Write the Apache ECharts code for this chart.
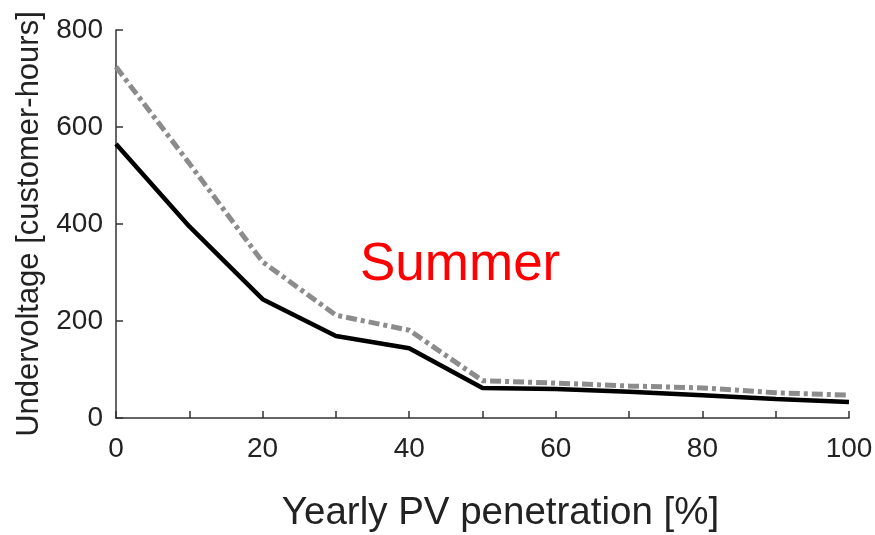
<!DOCTYPE html>
<html>
<head>
<meta charset="utf-8">
<script src="https://cdn.jsdelivr.net/npm/echarts@6/dist/echarts.min.js"></script>
<style>
html,body{margin:0;padding:0;background:#fff;}
#chart{width:875px;height:535px;}
</style>
</head>
<body>
<div id="chart"></div>
<script>
const penetration = [0, 10, 20, 30, 40, 50, 60, 70, 80, 90, 100];
const solidSeries = [565, 395, 245, 169, 144, 62, 60, 54, 47, 39, 33];
const dashedSeries = [724, 525, 322, 212, 181, 77, 72, 66, 62, 52, 47];
const xLabelStep = 20;
const yTicks = [0, 200, 400, 600, 800];

const font = '"Liberation Sans", Arial, sans-serif';
const axisColor = '#333';

const chart = echarts.init(document.getElementById('chart'), null, {renderer: 'canvas'});
chart.setOption({
  animation: false,
  backgroundColor: '#fff',
  grid: {left: 116, right: 26, top: 30, bottom: 117, containLabel: false, outerBoundsMode: 'none'},
  xAxis: {
    type: 'value', min: 0, max: 100, interval: 10,
    name: 'Yearly PV penetration [%]', nameLocation: 'middle', nameGap: 76,
    nameTextStyle: {fontFamily: font, fontSize: 38.5, color: '#222', padding: [0, 0, 0, 36]},
    axisLine: {show: true, lineStyle: {color: axisColor, width: 1.5}},
    axisTick: {show: true, inside: true, length: 7, lineStyle: {color: axisColor, width: 1.5}},
    axisLabel: {fontFamily: font, fontSize: 28, color: '#222', margin: 17,
      formatter: v => (v % xLabelStep === 0 ? String(v) : '')},
    splitLine: {show: false}
  },
  yAxis: {
    type: 'value', min: yTicks[0], max: yTicks[yTicks.length - 1], interval: 200,
    name: 'Undervoltage [customer-hours]', nameLocation: 'middle', nameGap: 63,
    nameTextStyle: {fontFamily: font, fontSize: 31, color: '#222'},
    axisLine: {show: true, lineStyle: {color: axisColor, width: 1.5}},
    axisTick: {show: true, inside: true, length: 7, lineStyle: {color: axisColor, width: 1.5}},
    axisLabel: {fontFamily: font, fontSize: 28, color: '#222', margin: 13},
    splitLine: {show: false}
  },
  series: [
    {
      type: 'line', name: 'dashed',
      data: penetration.map((x, i) => [x, dashedSeries[i]]),
      showSymbol: false, symbol: 'none',
      lineStyle: {color: '#8c8c8c', width: 5, type: [11, 4, 4, 4]},
      z: 2
    },
    {
      type: 'line', name: 'solid',
      data: penetration.map((x, i) => [x, solidSeries[i]]),
      showSymbol: false, symbol: 'none',
      lineStyle: {color: '#000', width: 4.5, type: 'solid'},
      z: 3
    }
  ],
  graphic: [{
    type: 'text', left: 360, top: 239,
    style: {text: 'Summer', fontFamily: font, fontSize: 53, fill: '#ff0000'}
  }]
});
</script>
</body>
</html>
